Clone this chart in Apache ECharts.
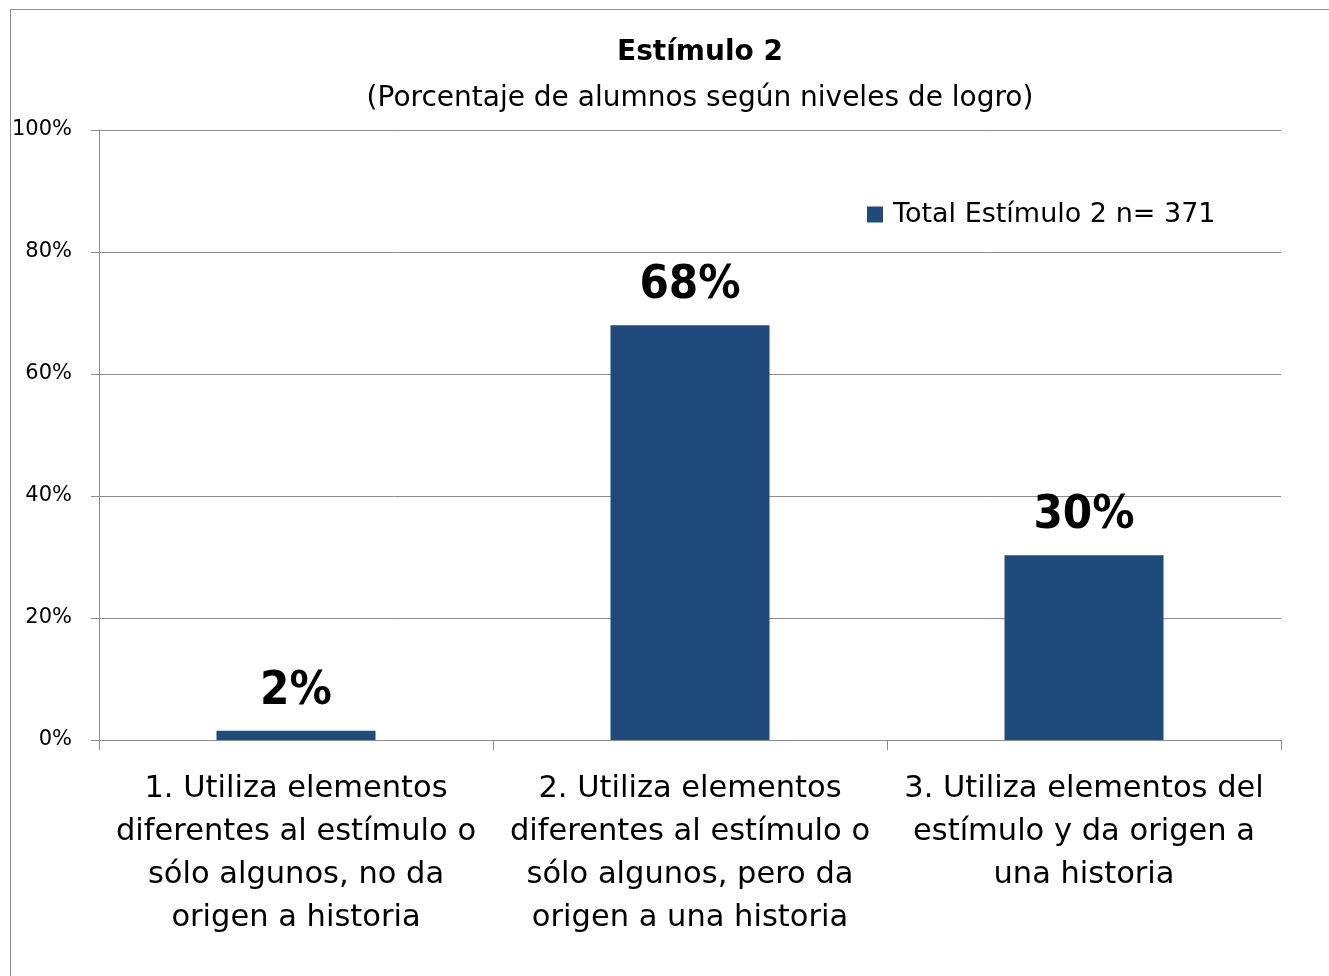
<!DOCTYPE html>
<html>
<head>
<meta charset="utf-8">
<script src="https://cdn.jsdelivr.net/npm/echarts@6/dist/echarts.min.js"></script>
<style>
  html, body { margin: 0; padding: 0; background: #fff; }
  #chart { width: 1329px; height: 976px; }
</style>
</head>
<body>
<div id="chart"></div>
<script>
const categories = [
  '1. Utiliza elementos\ndiferentes al estímulo o\nsólo algunos, no da\norigen a historia',
  '2. Utiliza elementos\ndiferentes al estímulo o\nsólo algunos, pero da\norigen a una historia',
  '3. Utiliza elementos del\nestímulo y da origen a\nuna historia'
]
const totalValues = [1.5, 68, 30.3]
const seriesName = 'Total Estímulo 2 n= 371'
const yTicks = [0, 20, 40, 60, 80, 100]

const font = "'DejaVu Sans', sans-serif"
const boldFont = "'DejaVu Sans Condensed', 'DejaVu Sans', sans-serif"
const gray = '#8c8c8c'

const chart = echarts.init(document.getElementById('chart'))
chart.setOption({
  animation: false,
  textStyle: { fontFamily: font, color: '#000' },
  // outer frame of the chart area
  graphic: [{
    type: 'rect',
    shape: { x: 10.5, y: 9.5, width: 1400, height: 1000 },
    style: { fill: 'none', stroke: gray, lineWidth: 1 },
    silent: true
  }],
  title: [
    {
      text: 'Estímulo 2',
      left: 695,
      top: 34,
      textAlign: 'center',
      textStyle: { fontFamily: font, fontSize: 28, fontWeight: 'bold', color: '#000' }
    },
    {
      text: '(Porcentaje de alumnos según niveles de logro)',
      left: 695,
      top: 80,
      textAlign: 'center',
      textStyle: { fontFamily: font, fontSize: 28, fontWeight: 'normal', color: '#000' }
    }
  ],
  legend: {
    left: 862,
    top: 196,
    icon: 'rect',
    itemWidth: 16,
    itemHeight: 16,
    itemGap: 8,
    textStyle: { fontFamily: font, fontSize: 27, color: '#000', padding: [0, 0, 0, 5] },
    data: [seriesName]
  },
  grid: { left: 99, right: 48, top: 130, bottom: 236, containLabel: false },
  xAxis: {
    type: 'category',
    data: categories,
    axisLine: { lineStyle: { color: gray, width: 1 } },
    axisTick: { show: true, length: 10, lineStyle: { color: gray } },
    axisLabel: {
      interval: 0,
      margin: 28,
      fontSize: 30.5,
      lineHeight: 43,
      color: '#000',
      fontFamily: font,
      align: 'center'
    }
  },
  yAxis: {
    type: 'value',
    min: yTicks[0],
    max: yTicks[yTicks.length - 1],
    interval: 20,
    axisLine: { show: true, lineStyle: { color: gray, width: 1 } },
    axisTick: { show: true, length: 8, lineStyle: { color: gray } },
    splitLine: { lineStyle: { color: gray, width: 1 } },
    axisLabel: {
      formatter: '{value}%',
      fontSize: 21,
      margin: 27,
      padding: [4, 0, 0, 0],
      color: '#000',
      fontFamily: font
    }
  },
  series: [{
    name: seriesName,
    type: 'bar',
    data: totalValues,
    barWidth: 159,
    itemStyle: { color: '#214a7c' },
    label: {
      show: true,
      position: 'top',
      distance: 16,
      formatter: p => Math.round(p.value) + '%',
      fontSize: 47,
      fontWeight: 'bold',
      color: '#000',
      fontFamily: boldFont
    }
  }]
})
</script>
</body>
</html>
